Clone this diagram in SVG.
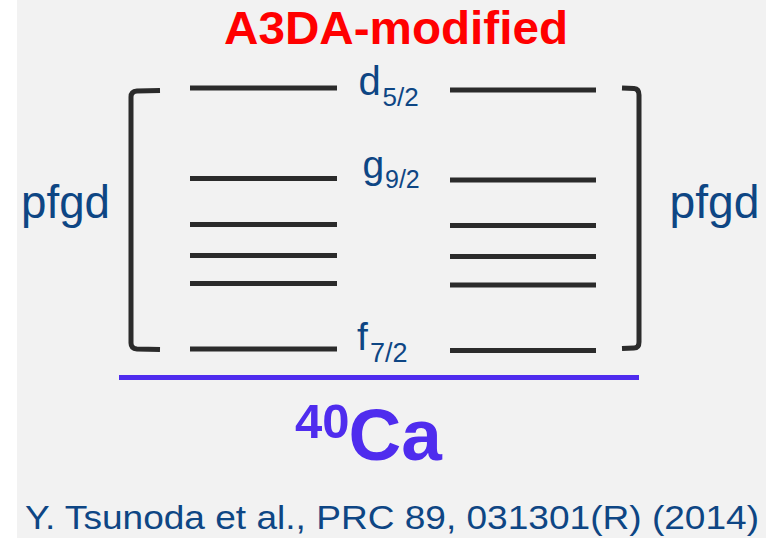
<svg xmlns="http://www.w3.org/2000/svg" width="766" height="538" viewBox="0 0 766 538">
  <style>
    .lvl { stroke: #2b2b2b; stroke-width: 5; fill: none; }
    .brk { stroke: #2b2b2b; stroke-width: 5; fill: none; stroke-linejoin: round; }
    .lab { font-family: "Liberation Sans", Arial, sans-serif; fill: #0e4684; }
    .vio { font-family: "Liberation Sans", Arial, sans-serif; fill: #4f2cee; font-weight: bold; }
  </style>
  <rect x="0" y="0" width="766" height="538" fill="#ffffff"/>
  <rect x="17" y="0" width="749" height="538" fill="#f2f2f2"/>

  <g id="title">
    <text x="224" y="44" font-family="Liberation Sans, Arial, sans-serif" font-weight="bold" font-size="47" fill="#ff0000" textLength="344" lengthAdjust="spacingAndGlyphs">A3DA-modified</text>
  </g>

  <g id="brackets">
    <path class="brk" d="M160,90.5 L137,91 Q131,91.5 131,97 L131,343 Q131,348.5 137,349 L160,349.5"/>
    <path class="brk" d="M622,88 L634,88.5 Q639,89 639,95 L639,342 Q639,348 634,348 L622,348.5"/>
  </g>

  <g id="levels-left">
    <line class="lvl" x1="190" y1="88" x2="337" y2="88"/>
    <line class="lvl" x1="190" y1="178.5" x2="337" y2="178.5"/>
    <line class="lvl" x1="190" y1="224.5" x2="337" y2="224.5"/>
    <line class="lvl" x1="190" y1="255.5" x2="337" y2="255.5"/>
    <line class="lvl" x1="190" y1="283.5" x2="337" y2="283.5"/>
    <line class="lvl" x1="190" y1="349" x2="337" y2="349"/>
  </g>
  <g id="levels-right">
    <line class="lvl" x1="450" y1="90" x2="596" y2="90"/>
    <line class="lvl" x1="450" y1="180" x2="596" y2="180"/>
    <line class="lvl" x1="450" y1="225.5" x2="596" y2="225.5"/>
    <line class="lvl" x1="450" y1="256.5" x2="596" y2="256.5"/>
    <line class="lvl" x1="450" y1="285" x2="596" y2="285"/>
    <line class="lvl" x1="450" y1="350.5" x2="596" y2="350.5"/>
  </g>

  <g id="label-d52">
    <text class="lab" x="358.5" y="95" font-size="40">d</text>
    <text class="lab" x="382.5" y="106" font-size="26">5/2</text>
  </g>
  <g id="label-g92">
    <text class="lab" x="362.5" y="178" font-size="39">g</text>
    <text class="lab" x="385" y="188" font-size="25">9/2</text>
  </g>
  <g id="label-f72">
    <text class="lab" x="357" y="350" font-size="39">f</text>
    <text class="lab" x="370" y="361.5" font-size="27">7/2</text>
  </g>

  <g id="pfgd-left">
    <text class="lab" x="21" y="218" font-size="46" textLength="89" lengthAdjust="spacingAndGlyphs">pfgd</text>
  </g>
  <g id="pfgd-right">
    <text class="lab" x="669.5" y="218" font-size="46" textLength="90" lengthAdjust="spacingAndGlyphs">pfgd</text>
  </g>

  <g id="core-40Ca">
    <line x1="119" y1="377.5" x2="639" y2="377.5" stroke="#4f2cee" stroke-width="5"/>
    <text class="vio" x="295" y="438" font-size="49">40</text>
    <text class="vio" x="348.5" y="460" font-size="73">Ca</text>
  </g>

  <g id="citation">
    <text class="lab" x="25" y="529" font-size="34" textLength="734" lengthAdjust="spacingAndGlyphs">Y. Tsunoda et al., PRC 89, 031301(R) (2014)</text>
  </g>
</svg>
